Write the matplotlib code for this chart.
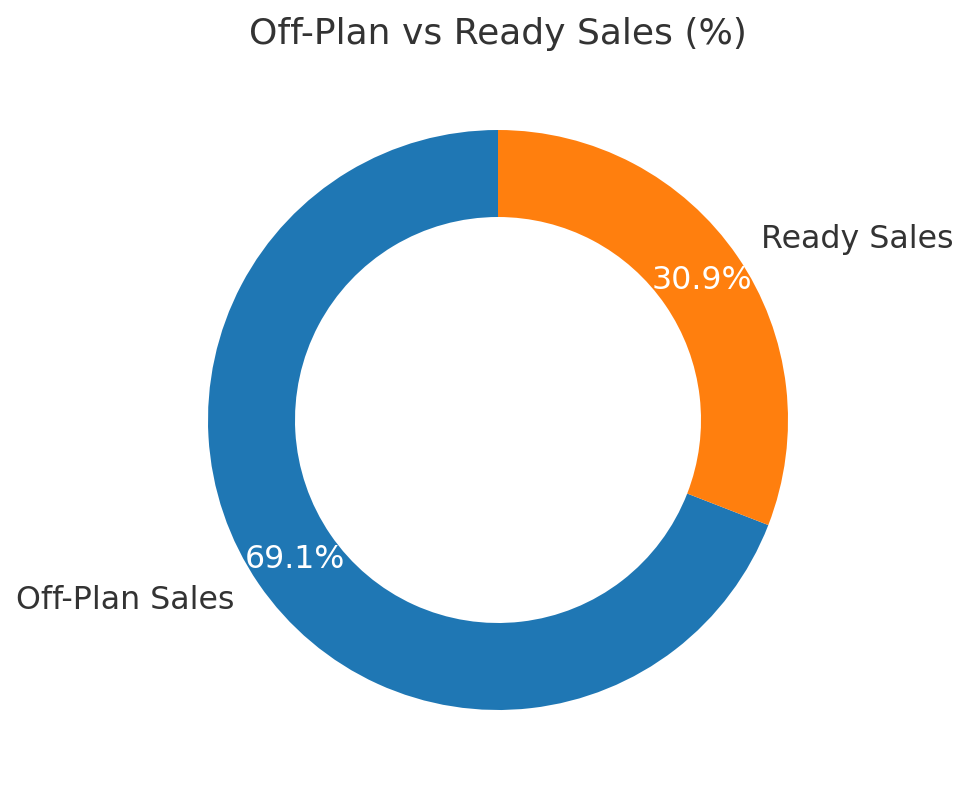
import matplotlib.pyplot as plt

labels = ['Off-Plan Sales', 'Ready Sales']
shares = [69.1, 30.9]
colors = ['#1f77b4', '#ff7f0e']

plt.rcParams['text.color'] = '#333333'

fig = plt.figure(figsize=(9.71, 8), dpi=100)
# square axes, donut radius ~290px centred at (498, 420)
ax = fig.add_axes([150 / 971, 32 / 800, 696 / 971, 696 / 800])

wedges, texts, autotexts = ax.pie(
    shares, labels=labels, colors=colors, autopct='%1.1f%%',
    startangle=90, pctdistance=0.85, labeldistance=1.1,
    wedgeprops=dict(width=0.3),
    textprops=dict(fontsize=22.8))
for t in autotexts:
    t.set_color('white')
    t.set_fontsize(22.8)

ax.set_xlim(-1.2, 1.2)
ax.set_ylim(-1.2, 1.2)
ax.set_aspect('equal')
ax.set_title('Off-Plan vs Ready Sales (%)', fontsize=26, pad=20)

fig.savefig('out.png', dpi=100)
